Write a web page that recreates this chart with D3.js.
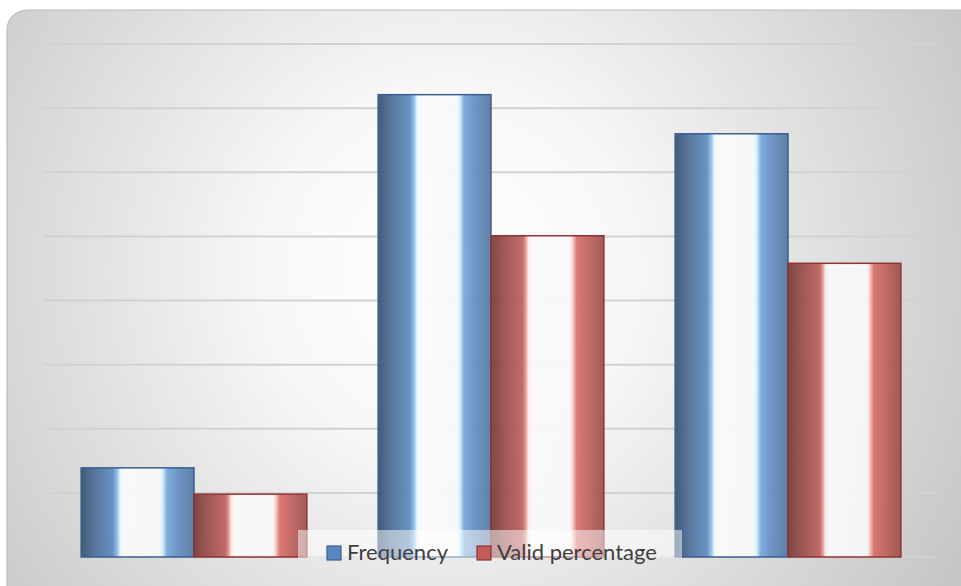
<!DOCTYPE html>
<html><head><meta charset="utf-8">
<script src="https://cdn.jsdelivr.net/npm/d3@7/dist/d3.min.js"></script>
<style>html,body{margin:0;padding:0;background:#fff;overflow:hidden}svg{display:block}</style>
</head><body>
<svg id="chart" width="961" height="586"></svg>
<script>
const categories = ["Category 1", "Category 2", "Category 3"];
const seriesNames = ["Frequency", "Valid percentage"];
const frequency = [13.9, 72.1, 66.0];
const validPercentage = [9.8, 50.1, 45.8];
const yTicks = [0, 10, 20, 30, 40, 50, 60, 70, 80];

const W = 961, H = 586;
const svg = d3.select("#chart");
const defs = svg.append("defs");

// background card gradient
const bg = defs.append("radialGradient").attr("id", "bgGrad")
  .attr("gradientUnits", "userSpaceOnUse").attr("cx", 450).attr("cy", 270).attr("r", 620);
bg.append("stop").attr("offset", 0).attr("stop-color", "#ffffff");
bg.append("stop").attr("offset", 0.3).attr("stop-color", "#f7f7f7");
bg.append("stop").attr("offset", 1).attr("stop-color", "#c2c2c2");

function barGrad(id, c) {
  const g = defs.append("linearGradient").attr("id", id).attr("x1", 0).attr("x2", 1).attr("y1", 0).attr("y2", 0);
  c.forEach(([o, col]) => g.append("stop").attr("offset", o).attr("stop-color", col));
}
barGrad("blueGrad", [[0, "#34506f"], [0.12, "#4d6f99"], [0.28, "#5f8bbe"], [0.32, "#8cc0ea"], [0.345, "#e6f7ff"], [0.37, "#fbfbfb"], [0.7, "#f8f8f8"], [0.725, "#c8f0ff"], [0.76, "#7aa8db"], [0.85, "#6690c4"], [1, "#55789f"]]);
barGrad("redGrad", [[0, "#743a39"], [0.12, "#9a4c4a"], [0.28, "#bd6260"], [0.31, "#e89a96"], [0.33, "#fde8e6"], [0.36, "#f9f9f9"], [0.7, "#f8f8f8"], [0.72, "#fcd7d4"], [0.76, "#d9706c"], [0.86, "#c2625f"], [1, "#99504e"]]);

// card
svg.append("rect").attr("x", 7).attr("y", 10).attr("width", W + 30).attr("height", H + 30)
  .attr("rx", 20).attr("fill", "url(#bgGrad)").attr("stroke", "#bcbcbc").attr("stroke-width", 1.2);

const plot = { left: 44, right: 938, top: 44, bottom: 557 };
const y = d3.scaleLinear().domain([0, 80]).range([plot.bottom, plot.top]);
const x0 = d3.scaleBand().domain(categories).range([plot.left, plot.right])
  .paddingInner(0.24).paddingOuter(0.125);
const x1 = d3.scaleBand().domain(seriesNames).range([0, x0.bandwidth()]).padding(0);

// gridlines
svg.append("g").selectAll("line").data(yTicks).join("line")
  .attr("x1", 44).attr("x2", 935)
  .attr("y1", d => y(d)).attr("y2", d => y(d))
  .attr("stroke", "#d2d2d2").attr("stroke-width", 2);

const data = categories.map((c, i) => ({ cat: c, vals: [
  { s: seriesNames[0], v: frequency[i] }, { s: seriesNames[1], v: validPercentage[i] }] }));
const fills = { "Frequency": "url(#blueGrad)", "Valid percentage": "url(#redGrad)" };
const strokes = { "Frequency": "#3b5f8f", "Valid percentage": "#8e3533" };

svg.append("g").selectAll("g").data(data).join("g")
  .attr("transform", d => `translate(${x0(d.cat)},0)`)
  .selectAll("rect").data(d => d.vals).join("rect")
  .attr("x", d => x1(d.s)).attr("width", x1.bandwidth())
  .attr("y", d => y(d.v)).attr("height", d => y(0) - y(d.v))
  .attr("fill", d => fills[d.s]).attr("fill-opacity", 0.93)
  .attr("stroke", d => strokes[d.s]).attr("stroke-width", 1.5);

// legend
const lg = svg.append("g");
lg.append("rect").attr("x", 298).attr("y", 530).attr("width", 384).attr("height", 28)
  .attr("fill", "#ffffff").attr("fill-opacity", 0.5);
const legendItems = [
  { name: seriesNames[0], x: 327, color: "#5b87c0", stroke: "#3b5f8f" },
  { name: seriesNames[1], x: 477, color: "#c25b59", stroke: "#8e3533" }];
legendItems.forEach(it => {
  lg.append("rect").attr("x", it.x).attr("y", 546).attr("width", 14).attr("height", 14)
    .attr("fill", it.color).attr("stroke", it.stroke).attr("stroke-width", 1.2);
  lg.append("text").attr("x", it.x + 20).attr("y", 560)
    .attr("font-family", "Lato, 'Open Sans', sans-serif").attr("font-size", 22)
    .attr("fill", "#404040").text(it.name);
});
</script>
</body></html>
